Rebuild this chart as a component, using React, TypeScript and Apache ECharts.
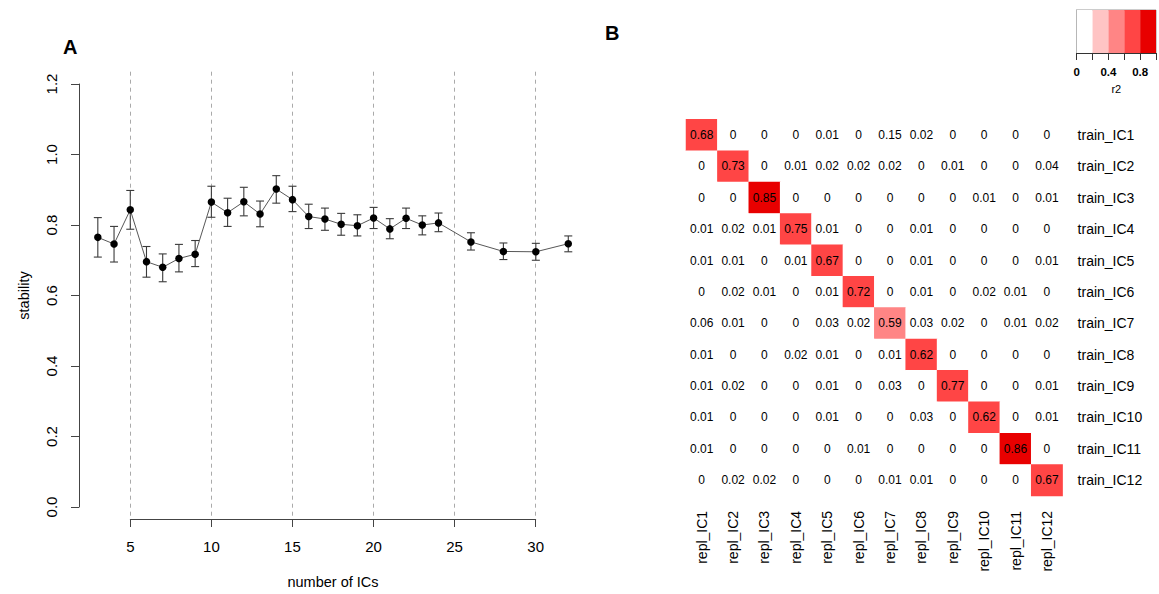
import React, { useEffect, useRef } from "react";
import * as echarts from "echarts";

const FONT = "Liberation Sans, Arial, Helvetica, sans-serif";

// Panel A data
const nICs = [3, 4, 5, 6, 7, 8, 9, 10, 11, 12, 13, 14, 15, 16, 17, 18, 19, 20, 21, 22, 23, 24, 26, 28, 30, 32];
const stability = [0.765, 0.746, 0.843, 0.696, 0.68, 0.705, 0.717, 0.865, 0.835, 0.866, 0.831, 0.902, 0.872, 0.824, 0.817, 0.802, 0.798, 0.82, 0.789, 0.819, 0.8, 0.806, 0.752, 0.725, 0.724, 0.747];
const lower = [0.709, 0.695, 0.788, 0.652, 0.639, 0.667, 0.682, 0.822, 0.796, 0.826, 0.795, 0.862, 0.838, 0.79, 0.785, 0.771, 0.769, 0.79, 0.761, 0.79, 0.772, 0.781, 0.729, 0.702, 0.7, 0.724];
const upper = [0.821, 0.796, 0.898, 0.739, 0.718, 0.745, 0.756, 0.91, 0.876, 0.907, 0.868, 0.94, 0.91, 0.859, 0.848, 0.833, 0.829, 0.85, 0.818, 0.848, 0.826, 0.834, 0.778, 0.749, 0.748, 0.769];
const xTicks = { min: 5, max: 30, step: 5 };
const yTicks = { min: 0, max: 1.2, step: 0.2 };

// Panel B data
const replLabels = ["repl_IC1", "repl_IC2", "repl_IC3", "repl_IC4", "repl_IC5", "repl_IC6", "repl_IC7", "repl_IC8", "repl_IC9", "repl_IC10", "repl_IC11", "repl_IC12"];
const trainLabels = ["train_IC1", "train_IC2", "train_IC3", "train_IC4", "train_IC5", "train_IC6", "train_IC7", "train_IC8", "train_IC9", "train_IC10", "train_IC11", "train_IC12"];
const r2Rows = [
  [0.68, 0, 0, 0, 0.01, 0, 0.15, 0.02, 0, 0, 0, 0],
  [0, 0.73, 0, 0.01, 0.02, 0.02, 0.02, 0, 0.01, 0, 0, 0.04],
  [0, 0, 0.85, 0, 0, 0, 0, 0, 0, 0.01, 0, 0.01],
  [0.01, 0.02, 0.01, 0.75, 0.01, 0, 0, 0.01, 0, 0, 0, 0],
  [0.01, 0.01, 0, 0.01, 0.67, 0, 0, 0.01, 0, 0, 0, 0.01],
  [0, 0.02, 0.01, 0, 0.01, 0.72, 0, 0.01, 0, 0.02, 0.01, 0],
  [0.06, 0.01, 0, 0, 0.03, 0.02, 0.59, 0.03, 0.02, 0, 0.01, 0.02],
  [0.01, 0, 0, 0.02, 0.01, 0, 0.01, 0.62, 0, 0, 0, 0],
  [0.01, 0.02, 0, 0, 0.01, 0, 0.03, 0, 0.77, 0, 0, 0.01],
  [0.01, 0, 0, 0, 0.01, 0, 0, 0.03, 0, 0.62, 0, 0.01],
  [0.01, 0, 0, 0, 0, 0.01, 0, 0, 0, 0, 0.86, 0],
  [0, 0.02, 0.02, 0, 0, 0, 0.01, 0.01, 0, 0, 0, 0.67],
];
const breaks = [0, 0.2, 0.4, 0.6, 0.8, 1.0];
const binColors = ["#ffffff", "#ffc4c4", "#ff8585", "#ff4545", "#e80000"];

export default function App() {
  const ref = useRef<HTMLDivElement>(null);
  useEffect(() => {
    if (!ref.current) return;
    const chart = echarts.init(ref.current, null, { renderer: "svg" });

    const linePts = nICs.map((x, i) => [x, stability[i]]);
    const errPts = nICs.map((x, i) => [x, lower[i], upper[i]]);
    const heatData: number[][] = [];
    r2Rows.forEach((row, r) => row.forEach((v, c) => heatData.push([c, r, v])));
    const legendBins = binColors.map((_, i) => [breaks[i], breaks[i + 1], i]);
    const pieces = binColors.map((color, i) =>
      i === binColors.length - 1
        ? { gte: breaks[i], lte: breaks[i + 1], color }
        : { gte: breaks[i], lt: breaks[i + 1], color }
    );

    const axisCol = "#444";
    const option: any = {
      animation: false,
      backgroundColor: "#ffffff",
      textStyle: { fontFamily: FONT },
      grid: [
        { left: 79, top: 67.1, width: 508.1, height: 456.8 },
        { left: 130.3, top: 71.7, width: 405.4, height: 450.6 },
        { left: 79, top: 84, width: 1, height: 423 },
        { left: 686, top: 119.3, width: 376.6, height: 376.6 },
        { left: 1076.7, top: 10, width: 83.5, height: 43, show: true, borderColor: "#999", borderWidth: 1 },
      ],
      xAxis: [
        { gridIndex: 0, type: "value", min: 1.84, max: 33.16, show: false },
        {
          gridIndex: 1, type: "value", min: xTicks.min, max: xTicks.max, interval: xTicks.step,
          axisLine: { show: true, lineStyle: { color: axisCol, width: 1 } },
          axisTick: { show: true, length: 8, lineStyle: { color: axisCol } },
          axisLabel: { fontSize: 15, color: "#000", margin: 20, fontFamily: FONT },
          splitLine: { show: true, lineStyle: { color: "#aaaaaa", type: [4, 4], width: 1 } },
          name: "number of ICs", nameLocation: "middle", nameGap: 55,
          nameTextStyle: { fontSize: 14.5, color: "#000", fontFamily: FONT },
        },
        { gridIndex: 2, type: "value", min: 0, max: 1, show: false },
        {
          gridIndex: 3, type: "category", data: replLabels, position: "bottom",
          axisLine: { show: false }, axisTick: { show: false }, splitLine: { show: false },
          axisLabel: { rotate: 90, fontSize: 14, color: "#000", margin: 15, fontFamily: FONT, interval: 0 },
        },
        {
          gridIndex: 4, type: "value", min: 0, max: 1, interval: 0.2,
          axisLine: { show: true, lineStyle: { color: "#333" } },
          axisTick: { show: true, length: 7, lineStyle: { color: "#333" } },
          splitLine: { show: false },
          axisLabel: {
            fontSize: 11.5, color: "#000", margin: 13, fontFamily: FONT, fontWeight: "bold",
            formatter: (v: number) => {
              const r = Math.round(v * 10);
              if (r % 4 !== 0) return "";
              return r === 0 ? "0" : v.toFixed(1);
            },
          },
          name: "r2", nameLocation: "middle", nameGap: 30,
          nameTextStyle: { fontSize: 11, color: "#000", fontFamily: FONT },
        },
      ],
      yAxis: [
        { gridIndex: 0, type: "value", min: -0.048, max: 1.248, show: false },
        { gridIndex: 1, type: "value", min: 0, max: 1, show: false },
        {
          gridIndex: 2, type: "value", min: yTicks.min, max: yTicks.max, interval: yTicks.step,
          axisLine: { show: true, lineStyle: { color: axisCol, width: 1 } },
          axisTick: { show: true, length: 8, lineStyle: { color: axisCol } },
          splitLine: { show: false },
          axisLabel: { rotate: 90, fontSize: 15, color: "#000", margin: 20, fontFamily: FONT, formatter: (v: number) => v.toFixed(1) },
          name: "stability", nameLocation: "middle", nameGap: 48, nameRotate: 90,
          nameTextStyle: { fontSize: 14.5, color: "#000", fontFamily: FONT },
        },
        {
          gridIndex: 3, type: "category", data: trainLabels, inverse: true, position: "right",
          axisLine: { show: false }, axisTick: { show: false }, splitLine: { show: false },
          axisLabel: { fontSize: 14, color: "#000", margin: 15, fontFamily: FONT, interval: 0 },
        },
        {
          gridIndex: 4, type: "value", min: 0, max: 1,
          axisLine: { show: true, lineStyle: { color: "#999" } },
          axisTick: { show: false }, axisLabel: { show: false }, splitLine: { show: false },
        },
      ],
      visualMap: {
        type: "piecewise", show: false, dimension: 2, seriesIndex: 2, pieces,
      },
      series: [
        {
          type: "custom", xAxisIndex: 0, yAxisIndex: 0, z: 2,
          encode: { x: 0, y: [1, 2] },
          data: errPts,
          renderItem: (params: any, api: any) => {
            const x = api.value(0);
            const top = api.coord([x, api.value(2)]);
            const bot = api.coord([x, api.value(1)]);
            const w = 4;
            const st = { stroke: "#3a3a3a", lineWidth: 1.1 };
            return {
              type: "group",
              children: [
                { type: "line", shape: { x1: top[0], y1: top[1], x2: bot[0], y2: bot[1] }, style: st },
                { type: "line", shape: { x1: top[0] - w, y1: top[1], x2: top[0] + w, y2: top[1] }, style: st },
                { type: "line", shape: { x1: bot[0] - w, y1: bot[1], x2: bot[0] + w, y2: bot[1] }, style: st },
              ],
            };
          },
        },
        {
          type: "line", xAxisIndex: 0, yAxisIndex: 0, z: 3,
          data: linePts, symbol: "circle", symbolSize: 7.5, showSymbol: true,
          itemStyle: { color: "#000" },
          lineStyle: { color: "#444", width: 0.9 },
          emphasis: { disabled: true },
        },
        {
          type: "heatmap", xAxisIndex: 3, yAxisIndex: 3,
          data: heatData,
          label: {
            show: true, fontSize: 12, color: "#000", fontFamily: FONT,
            formatter: (p: any) => String(p.value[2]),
          },
          itemStyle: { borderWidth: 0 },
          emphasis: { disabled: true },
        },
        {
          type: "custom", xAxisIndex: 4, yAxisIndex: 4, z: 1,
          data: legendBins,
          encode: { x: [0, 1] },
          renderItem: (params: any, api: any) => {
            const p1 = api.coord([api.value(0), 1]);
            const p2 = api.coord([api.value(1), 0]);
            return {
              type: "rect",
              shape: { x: p1[0], y: p1[1], width: p2[0] - p1[0], height: p2[1] - p1[1] },
              style: { fill: binColors[api.value(2)] },
            };
          },
        },
      ],
      graphic: [
        { type: "text", left: 63, top: 37, style: { text: "A", font: `bold 20px ${FONT}`, fill: "#000" } },
        { type: "text", left: 605, top: 23, style: { text: "B", font: `bold 20px ${FONT}`, fill: "#000" } },
      ],
    };
    chart.setOption(option);
    return () => chart.dispose();
  }, []);
  return <div ref={ref} style={{ position: "fixed", left: 0, top: 0, width: 1159, height: 594 }} />;
}
